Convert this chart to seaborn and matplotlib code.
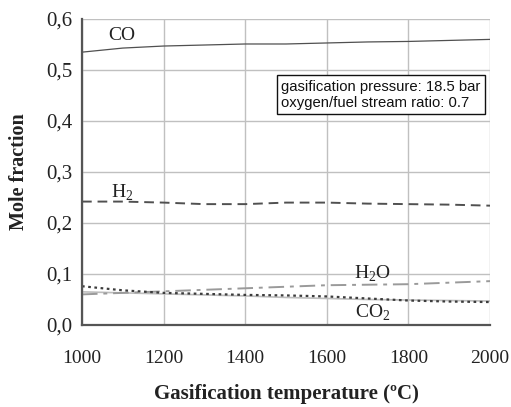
import matplotlib
matplotlib.use("Agg")
import matplotlib.pyplot as plt
import seaborn as sns
import numpy as np

temps = [1000, 1100, 1200, 1300, 1400, 1500, 1600, 1700, 1800, 1900, 2000]
co = [0.535, 0.543, 0.547, 0.549, 0.551, 0.551, 0.553, 0.555, 0.556, 0.558, 0.560]
h2 = [0.242, 0.242, 0.240, 0.237, 0.237, 0.240, 0.240, 0.238, 0.237, 0.236, 0.234]
h2o = [0.060, 0.063, 0.066, 0.069, 0.072, 0.075, 0.078, 0.079, 0.080, 0.083, 0.086]
co2 = [0.076, 0.068, 0.063, 0.061, 0.059, 0.058, 0.056, 0.052, 0.048, 0.046, 0.045]
other = [0.065, 0.063, 0.061, 0.059, 0.057, 0.054, 0.052, 0.050, 0.049, 0.048, 0.047]

xticks = [1000, 1200, 1400, 1600, 1800, 2000]
yticks = [0.0, 0.1, 0.2, 0.3, 0.4, 0.5, 0.6]
ytick_labels = ["0,0", "0,1", "0,2", "0,3", "0,4", "0,5", "0,6"]

sns.set_theme(style="white")
plt.rcParams["font.family"] = ["Liberation Serif", "DejaVu Serif"]
plt.rcParams["mathtext.fontset"] = "custom"
plt.rcParams["mathtext.rm"] = "Liberation Serif"

fig = plt.figure(figsize=(5.11, 4.07), dpi=100)
ax = fig.add_axes([82 / 511, 1 - 325 / 407, 408 / 511, 306 / 407])

sns.lineplot(x=temps, y=other, ax=ax, color="#bdbdbd", lw=1.2)
sns.lineplot(x=temps, y=h2o, ax=ax, color="#9a9a9a", lw=1.4,
             linestyle=(0, (8, 3, 2, 3)))
sns.lineplot(x=temps, y=co2, ax=ax, color="#3c3c3c", lw=1.6, linestyle=(0, (1.2, 1.6)))
sns.lineplot(x=temps, y=h2, ax=ax, color="#505050", lw=1.4, linestyle=(0, (5, 3)))
sns.lineplot(x=temps, y=co, ax=ax, color="#505050", lw=0.9)

ax.set_xlim(1000, 2000)
ax.set_ylim(0, 0.6)
ax.set_xticks(xticks)
ax.set_xticklabels([str(t) for t in xticks])
ax.set_yticks(yticks)
ax.set_yticklabels(ytick_labels)
ax.grid(True, color="#c0c0c0", lw=1.0)
ax.set_axisbelow(True)
for s in ["top", "right"]:
    ax.spines[s].set_visible(False)
for s in ["left", "bottom"]:
    ax.spines[s].set_color("#555555")
    ax.spines[s].set_linewidth(1.6)
ax.tick_params(axis="x", which="major", labelsize=14, colors="#555555",
               labelcolor="#222222", length=6, width=1.2, direction="out", pad=12)
ax.tick_params(axis="y", which="major", labelsize=15, colors="#555555",
               labelcolor="#222222", length=6, width=1.2, direction="out", pad=1)

ax.set_xlabel("Gasification temperature (ºC)", fontsize=15, fontweight="bold",
              color="#222222", labelpad=12)
ax.set_ylabel("Mole fraction", fontsize=14.5, fontweight="bold", color="#222222",
              labelpad=12)

lab_kw = dict(fontsize=14, color="#222222", ha="center", va="center")
ax.text(1098, 0.568, "CO", **lab_kw)
ax.text(1098, 0.259, r"H$_\mathregular{2}$", **lab_kw)
ax.text(1713, 0.101, r"H$_\mathregular{2}$O", **lab_kw)
ax.text(1713, 0.024, r"CO$_\mathregular{2}$", **lab_kw)

ax.text(0.488, 0.752, "gasification pressure: 18.5 bar\noxygen/fuel stream ratio: 0.7",
        transform=ax.transAxes, fontsize=10.7, family=["Liberation Sans", "DejaVu Sans"],
        color="#111111", ha="left", va="center", linespacing=1.2,
        bbox=dict(boxstyle="square,pad=0.3", fc="white", ec="#111111", lw=1))

fig.savefig("out.png", dpi=100)
